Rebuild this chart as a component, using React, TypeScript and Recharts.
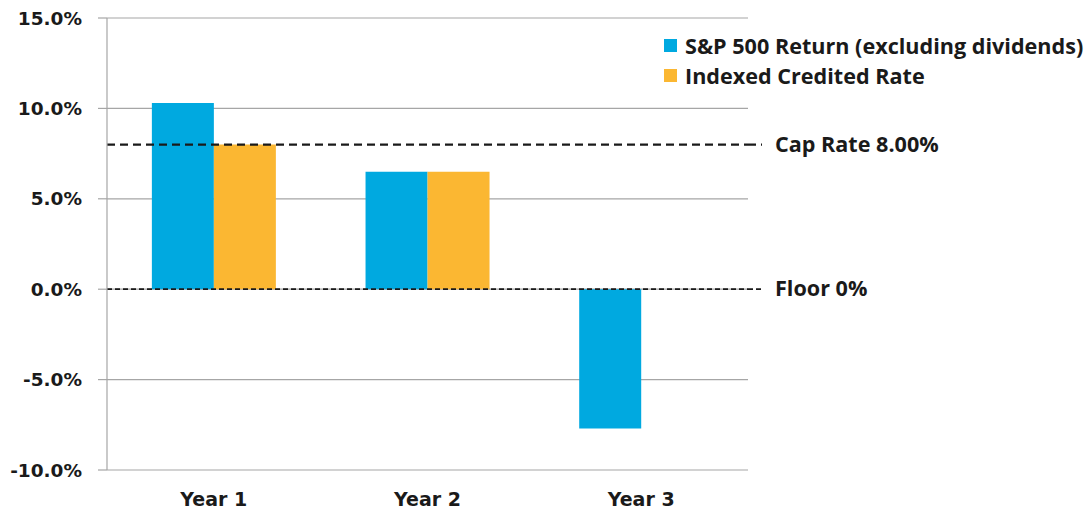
import {
  BarChart,
  Bar,
  XAxis,
  YAxis,
  CartesianGrid,
  ReferenceLine,
} from "recharts";

const years = ["Year 1", "Year 2", "Year 3"];
const spReturn = [10.3, 6.5, -7.7];
const creditedRate = [8.0, 6.5, 0];
const yTicks = [-10, -5, 0, 5, 10, 15];
const capRate = 8;
const floorRate = 0;

const series = [
  { key: "sp", name: "S&P 500 Return (excluding dividends)", color: "#00a9e0" },
  { key: "idx", name: "Indexed Credited Rate", color: "#fbb732" },
];

const data = years.map((y, i) => ({
  name: y,
  sp: spReturn[i],
  idx: creditedRate[i],
}));

const axisFont = "'DejaVu Sans', Verdana, sans-serif";
const labelFont = "'Open Sans', 'Noto Sans', sans-serif";

// dashed line runs a bit past the plot, then the text
function SideLabel(props: any) {
  const { viewBox, text, dash, width } = props;
  const x = viewBox.x + viewBox.width;
  const y = viewBox.y;
  return (
    <g>
      <line x1={x} y1={y} x2={x + 14} y2={y} stroke="#1a1a1a" strokeWidth={width} strokeDasharray={dash} />
      <text x={x + 27} y={y} dy={7} fontFamily={labelFont} fontWeight={700} fontSize={21.6} fill="#1a1a1a">
        {text}
      </text>
    </g>
  );
}

export default function App() {
  return (
    <div style={{ position: "absolute", left: 0, top: 0, width: 1090, height: 510, background: "#fff" }}>
      <BarChart
        width={1090}
        height={510}
        data={data}
        margin={{ top: 18, right: 342, bottom: 6, left: 0 }}
        barCategoryGap="21%"
        barGap={0}
      >
        <CartesianGrid vertical={false} stroke="#a6a6a6" strokeWidth={1.2} />
        <XAxis
          dataKey="name"
          axisLine={false}
          tickLine={false}
          height={34}
          tickMargin={17}
          tick={{ fontFamily: axisFont, fontWeight: 700, fontSize: 19, fill: "#1a1a1a" }}
        />
        <YAxis
          type="number"
          domain={[-10, 15]}
          ticks={yTicks}
          interval={0}
          width={107}
          axisLine={{ stroke: "#a6a6a6", strokeWidth: 1.2 }}
          tickLine={{ stroke: "#a6a6a6", strokeWidth: 1.2 }}
          tickSize={9}
          tickMargin={16}
          tickFormatter={(v: number) => `${v.toFixed(1)}%`}
          tick={{ fontFamily: axisFont, fontWeight: 700, fontSize: 18.5, fill: "#1a1a1a" }}
        />
        {series.map((s) => (
          <Bar key={s.key} dataKey={s.key} name={s.name} fill={s.color} isAnimationActive={false} />
        ))}
        <ReferenceLine
          y={capRate}
          stroke="#1a1a1a"
          strokeWidth={2.2}
          strokeDasharray="8 5"
          label={<SideLabel text="Cap Rate 8.00%" dash="8 5" width={2.2} />}
        />
        <ReferenceLine
          y={floorRate}
          stroke="#1a1a1a"
          strokeWidth={1.8}
          strokeDasharray="5 3"
          label={<SideLabel text="Floor 0%" dash="5 3" width={1.8} />}
        />
      </BarChart>
      <div style={{ position: "absolute", left: 664, top: 30, fontFamily: labelFont, fontWeight: 700, fontSize: 21.6, color: "#1a1a1a" }}>
        {series.map((s) => (
          <div key={s.key} style={{ display: "flex", alignItems: "center", height: 30 }}>
            <span style={{ display: "inline-block", width: 13, height: 13, background: s.color, marginRight: 8 }} />
            <span>{s.name}</span>
          </div>
        ))}
      </div>
    </div>
  );
}
